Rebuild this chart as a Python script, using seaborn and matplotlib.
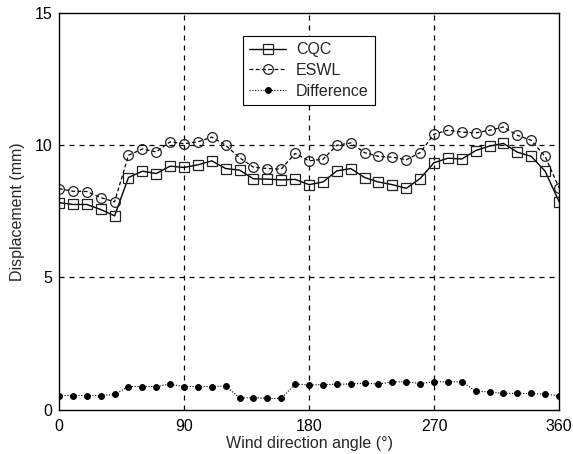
import matplotlib
matplotlib.use("Agg")
import matplotlib.pyplot as plt
import seaborn as sns
import numpy as np
import pandas as pd

angles = list(range(0, 361, 10))
cqc = [7.83, 7.76, 7.76, 7.57, 7.33, 8.78, 9.02, 8.93, 9.21, 9.16, 9.26, 9.41, 9.12,
       9.06, 8.73, 8.72, 8.69, 8.71, 8.51, 8.61, 9.03, 9.12, 8.78, 8.61, 8.51, 8.37,
       8.74, 9.34, 9.51, 9.48, 9.80, 9.97, 10.07, 9.74, 9.58, 9.02, 7.87]
eswl = [8.36, 8.26, 8.25, 8.02, 7.86, 9.62, 9.86, 9.75, 10.13, 10.06, 10.13, 10.31, 10.0,
        9.53, 9.17, 9.12, 9.10, 9.69, 9.41, 9.47, 10.0, 10.09, 9.72, 9.58, 9.55, 9.45,
        9.72, 10.42, 10.57, 10.50, 10.47, 10.57, 10.69, 10.38, 10.19, 9.58, 8.39]
diff = [0.53, 0.53, 0.53, 0.53, 0.57, 0.87, 0.87, 0.87, 0.96, 0.87, 0.87, 0.87, 0.89,
        0.44, 0.45, 0.42, 0.42, 0.96, 0.93, 0.94, 0.96, 0.96, 1.0, 0.96, 1.05, 1.05,
        0.98, 1.05, 1.05, 1.05, 0.70, 0.66, 0.61, 0.61, 0.61, 0.57, 0.53]

sns.set_style("white")
plt.rcParams['font.family'] = ['Liberation Sans', 'DejaVu Sans']

fig = plt.figure(figsize=(5.73, 4.54), dpi=100)
ax = fig.add_axes([0.103, 0.098, 0.8726, 0.873])

df = pd.DataFrame({"angle": angles, "CQC": cqc, "ESWL": eswl, "Difference": diff})

sns.lineplot(data=df, x="angle", y="CQC", ax=ax, color="black", linewidth=1.0,
             linestyle="-", marker="s", markersize=7.5, markerfacecolor="none",
             markeredgecolor="#222222", markeredgewidth=0.9, label="CQC")
sns.lineplot(data=df, x="angle", y="ESWL", ax=ax, color="black", linewidth=0.9,
             linestyle=(0, (3, 2)), marker="o", markersize=7, markerfacecolor="none",
             markeredgecolor="#222222", markeredgewidth=0.9, label="ESWL")
sns.lineplot(data=df, x="angle", y="Difference", ax=ax, color="black", linewidth=0.8,
             linestyle=(0, (1, 1.5)), marker="o", markersize=4.2, markerfacecolor="black",
             markeredgecolor="black", label="Difference")

ax.set_xlim(0, 360)
ax.set_ylim(0, 15)
ax.set_xticks([0, 90, 180, 270, 360])
ax.set_yticks([0, 5, 10, 15])
ax.tick_params(axis="both", length=0, labelsize=11.5, colors="black")
ax.tick_params(axis="x", pad=7)
ax.tick_params(axis="y", pad=5)
for v in [90, 180, 270]:
    ax.axvline(v, color="black", linestyle=(0, (4, 4)), linewidth=0.9, zorder=0)
for v in [5, 10]:
    ax.axhline(v, color="black", linestyle=(0, (4, 4)), linewidth=0.9, zorder=0)
for s in ax.spines.values():
    s.set_color("black")
    s.set_linewidth(1.0)

ax.set_xlabel("Wind direction angle (°)", fontsize=11.5, labelpad=1)
ax.set_ylabel("Displacement (mm)", fontsize=11.5, labelpad=7)

leg = ax.legend(loc="upper center", bbox_to_anchor=(0.5, 0.963), frameon=True,
                fancybox=False, edgecolor="black", fontsize=11.5, handlelength=2.3,
                handletextpad=0.6, borderpad=0.4, labelspacing=0.36, framealpha=1)
leg.get_frame().set_linewidth(0.8)

fig.savefig("out.png", dpi=100)
